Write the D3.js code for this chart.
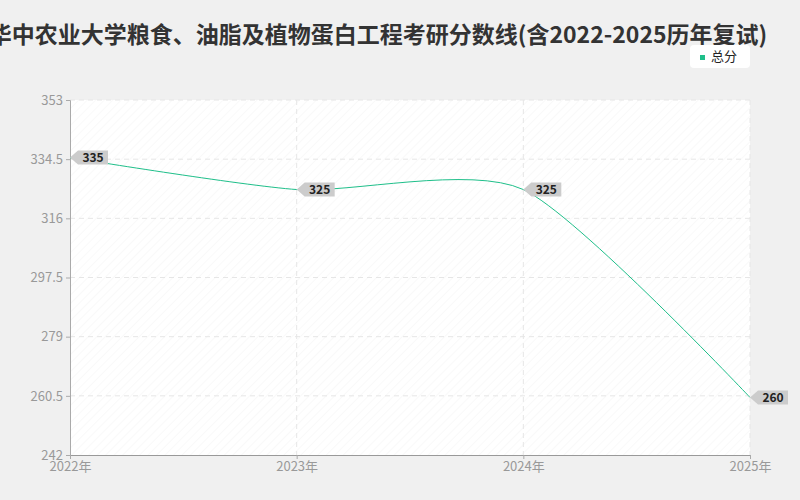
<!DOCTYPE html>
<html><head><meta charset="utf-8">
<script src="https://cdn.jsdelivr.net/npm/d3@7"></script>
<style>body{margin:0;background:#f0f0f0;font-family:"Noto Sans CJK SC","Noto Sans",sans-serif}</style>
</head><body>
<svg id="chart" width="800" height="500"></svg>
<script>
const years = ["2022年", "2023年", "2024年", "2025年"];
const scores = [335, 325, 325, 260];
const yTicks = [242, 260.5, 279, 297.5, 316, 334.5, 353];
const title = "华中农业大学粮食、油脂及植物蛋白工程考研分数线(含2022-2025历年复试)";
const seriesName = "总分";

const svg = d3.select("#chart");
const m = { left: 70, right: 50, top: 100, bottom: 45 };
const W = 800, H = 500;
const color = "#1fbf8a";

const defs = svg.append("defs");
const pat = defs.append("pattern").attr("id", "hatch").attr("width", 6).attr("height", 6)
    .attr("patternUnits", "userSpaceOnUse").attr("patternTransform", "rotate(45)");
pat.append("rect").attr("width", 6).attr("height", 6).attr("fill", "#fff");
pat.append("line").attr("x1", 0).attr("y1", 0).attr("x2", 0).attr("y2", 6).attr("stroke", "#f4f4f4").attr("stroke-width", 1);

const x = d3.scalePoint().domain(years).range([m.left, W - m.right]);
const y = d3.scaleLinear().domain([242, 353]).range([H - m.bottom, m.top]);

svg.append("rect").attr("x", m.left).attr("y", m.top)
    .attr("width", W - m.left - m.right).attr("height", H - m.top - m.bottom).attr("fill", "url(#hatch)");

svg.selectAll(".hg").data(yTicks.slice(1)).enter().append("line")
    .attr("x1", m.left).attr("x2", W - m.right).attr("y1", d => y(d)).attr("y2", d => y(d))
    .attr("stroke", "#e6e6e6").attr("stroke-dasharray", "5,4");
svg.selectAll(".vg").data(years.slice(1)).enter().append("line")
    .attr("y1", m.top).attr("y2", H - m.bottom).attr("x1", d => x(d)).attr("x2", d => x(d))
    .attr("stroke", "#e6e6e6").attr("stroke-dasharray", "5,4");

const yAxis = svg.append("g").attr("transform", `translate(${m.left},0)`)
    .call(d3.axisLeft(y).tickValues(yTicks).tickSize(4).tickFormat(d => d));
const xAxis = svg.append("g").attr("transform", `translate(0,${H - m.bottom})`)
    .call(d3.axisBottom(x).tickSize(4));
[xAxis, yAxis].forEach(a => {
    a.selectAll("path,line").attr("stroke", "#aaa");
    a.selectAll("text").attr("fill", "#999").style("font-size", "13px").style("font-family", "Noto Sans CJK SC");
});
xAxis.select(".domain").attr("stroke", "#999");

const line = d3.line().x((d, i) => x(years[i])).y(d => y(d)).curve(d3.curveCardinal.tension(0.3));
svg.append("path").datum(scores).attr("d", line).attr("fill", "none").attr("stroke", color).attr("stroke-width", 1);

const tags = svg.selectAll(".tag").data(scores).enter().append("g")
    .attr("transform", (d, i) => `translate(${x(years[i])},${y(d)})`);
tags.append("path").attr("d", "M0,0 L8,-7 L38,-7 L38,7 L8,7 Z").attr("fill", "#ccc");
tags.append("text").attr("x", 23).attr("y", 4.5).attr("text-anchor", "middle")
    .style("font-size", "12px").style("font-weight", "bold").attr("fill", "#222").text(d => d);

svg.append("text").attr("x", 378).attr("y", 43).attr("text-anchor", "middle")
    .style("font-size", "23px").style("font-weight", "bold").attr("fill", "#333").text(title);

const lg = svg.append("g").attr("transform", "translate(690,45)");
lg.append("rect").attr("width", 60).attr("height", 23).attr("rx", 4).attr("fill", "#fff");
lg.append("rect").attr("x", 10).attr("y", 10).attr("width", 5).attr("height", 5).attr("fill", color);
lg.append("text").attr("x", 21).attr("y", 16).style("font-size", "13px").attr("fill", "#222").text(seriesName);
</script>
</body></html>
